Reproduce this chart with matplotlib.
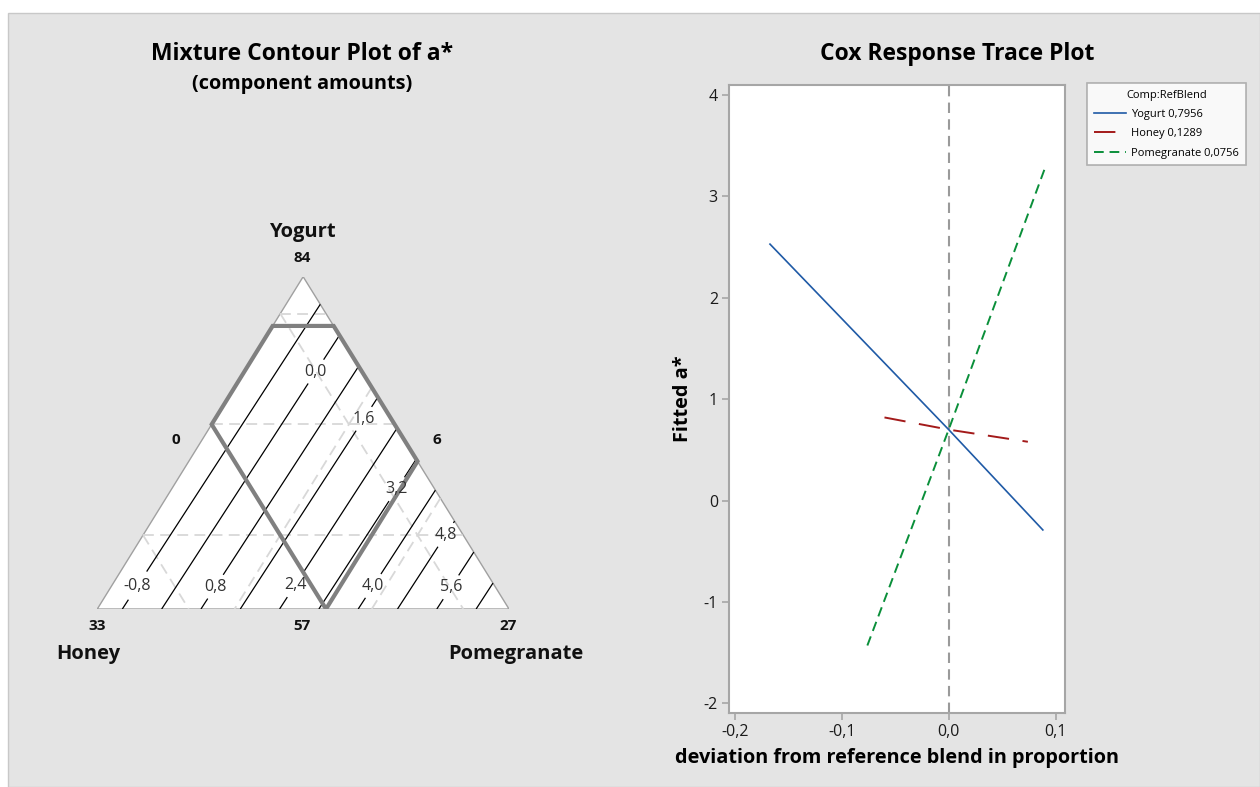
import matplotlib.pyplot as plt
import matplotlib.tri as mtri
import numpy as np
from matplotlib.patches import Polygon, Rectangle

plt.rcParams['font.family'] = ['Open Sans', 'DejaVu Sans']

# mixture design: component amounts, total of 90
components = ["Yogurt", "Honey", "Pomegranate"]
lower = [57, 6, 0]
upper = [84, 33, 27]
total = 90

# fitted linear blending coefficients for a* (on proportions)
coef = [-1.559, -0.880, 27.05]
contour_levels = [-0.8, 0.0, 0.8, 1.6, 2.4, 3.2, 4.0, 4.8, 5.6, 6.4]

# constrained experimental region (Yogurt, Honey, Pomegranate amounts)
region = [(80, 10, 0), (80, 6, 4), (69, 6, 15), (57, 18, 15), (72, 18, 0)]

# reference grid lines (amounts)
grid_yogurt = [63, 72, 81]
grid_honey = [9, 18, 27]
grid_pom = [9, 18]

# Cox trace: reference blend and fitted a* along each component direction
ref_blend = [0.7956, 0.1289, 0.0756]
yogurt_dev = [-0.167, 0.0, 0.088]
yogurt_fit = [2.53, 0.70, -0.29]
honey_dev = [-0.060, 0.0, 0.074]
honey_fit = [0.82, 0.70, 0.58]
pom_dev = [-0.076, 0.0, 0.091]
pom_fit = [-1.43, 0.70, 3.31]

x_ticks = [-0.2, -0.1, 0.0, 0.1]
y_ticks = [-2, -1, 0, 1, 2, 3, 4]

span = upper[0] - lower[0]


def comma(v, nd=1):
    return f"{v:.{nd}f}".replace('.', ',')


def xy(Y, P):
    # pseudo-component coordinates -> triangle cartesian
    return 0.5 * Y + P, Y


def amounts_xy(a):
    Y = (a[0] - lower[0]) / span
    P = (a[2] - lower[2]) / span
    return xy(Y, P)


W, H = 1260, 787
fig = plt.figure(figsize=(W / 100, H / 100), dpi=100, facecolor='white')
fig.patches.append(Rectangle((8 / W, 0), 1 - 8 / W, 1 - 13 / H, transform=fig.transFigure,
                             facecolor='#e4e4e4', edgecolor='#c8c8c8', lw=1, zorder=-10))

# ---------------- mixture contour plot ----------------
ax_t = fig.add_axes([97.3 / W, (H - 609) / H, 411.7 / W, 332.3 / H])
ax_t.set_xlim(0, 1)
ax_t.set_ylim(0, 1)
ax_t.axis('off')

ax_t.add_patch(Polygon([(0, 0), (1, 0), (0.5, 1)], closed=True, facecolor='white',
                       edgecolor='#a0a0a0', lw=1, zorder=0))

gkw = dict(color='#d8d8d8', lw=1.3, dashes=(6, 3.5), zorder=1)
for g in grid_yogurt:
    k = (g - lower[0]) / span
    p0, p1 = xy(k, 0), xy(k, 1 - k)
    ax_t.plot([p0[0], p1[0]], [p0[1], p1[1]], **gkw)
for g in grid_honey:
    k = (g - lower[1]) / span
    p0, p1 = xy(1 - k, 0), xy(0, 1 - k)
    ax_t.plot([p0[0], p1[0]], [p0[1], p1[1]], **gkw)
for g in grid_pom:
    k = (g - lower[2]) / span
    p0, p1 = xy(1 - k, k), xy(0, k)
    ax_t.plot([p0[0], p1[0]], [p0[1], p1[1]], **gkw)

# response surface over the simplex
n = 80
Yp, Pp = [], []
for i in range(n + 1):
    for j in range(n + 1 - i):
        Yp.append(i / n)
        Pp.append(j / n)
Yp = np.array(Yp)
Pp = np.array(Pp)
Hp = 1 - Yp - Pp
fy = (lower[0] + span * Yp) / total
fh = (lower[1] + span * Hp) / total
fp = (lower[2] + span * Pp) / total
resp = coef[0] * fy + coef[1] * fh + coef[2] * fp
tx, ty = xy(Yp, Pp)
tri = mtri.Triangulation(tx, ty)
cs = ax_t.tricontour(tri, resp, levels=contour_levels, colors='black', linewidths=0.9,
                     linestyles='solid', zorder=2)
label_pos = [(0.0957, 0.072), (0.281, 0.072), (0.480, 0.072), (0.667, 0.072), (0.862, 0.063),
             (0.529, 0.716), (0.648, 0.572), (0.723, 0.364), (0.854, 0.217)]
clabels = ax_t.clabel(cs, [l for l in contour_levels if l != 6.4], inline=True, fontsize=11.5,
                      colors='#333333', fmt=lambda v: comma(v), manual=label_pos,
                      inline_spacing=3)
for t in clabels:
    t.set_rotation(0)

reg = [amounts_xy(a) for a in region]
ax_t.add_patch(Polygon(reg, closed=True, fill=False, edgecolor='#808080', lw=3, zorder=3,
                       joinstyle='miter'))

tkw = dict(ha='center', va='center', clip_on=False, color='#111111', fontweight='bold')
ax_t.text(0.497, 1.134, components[0], fontsize=14.5, **tkw)
ax_t.text(0.497, 1.056, str(upper[0]), fontsize=11, **tkw)
ax_t.text(0.191, 0.509, str(lower[2]), fontsize=11, **tkw)
ax_t.text(0.825, 0.509, str(lower[1]), fontsize=11, **tkw)
ax_t.text(0.0, -0.051, str(upper[1]), fontsize=11, **tkw)
ax_t.text(0.497, -0.051, str(lower[0]), fontsize=11, **tkw)
ax_t.text(0.997, -0.051, str(upper[2]), fontsize=11, **tkw)
ax_t.text(-0.022, -0.135, components[1], fontsize=14.5, **tkw)
ax_t.text(1.017, -0.135, components[2], fontsize=14.5, **tkw)

fig.text(302 / W, 1 - 54 / H, "Mixture Contour Plot of a*", ha='center', va='center',
         fontsize=16.5, fontweight='bold')
fig.text(302 / W, 1 - 84 / H, "(component amounts)", ha='center', va='center',
         fontsize=14.3, fontweight='bold')

# ---------------- Cox response trace ----------------
ax = fig.add_axes([729 / W, (H - 713) / H, 336 / W, 628 / H])
ax.set_facecolor('white')
ax.set_xlim(-0.2053, 0.1087)
ax.set_ylim(-2.096, 4.1)
ax.axvline(0, color='#9a9a9a', lw=1.5, dashes=(5, 3), zorder=1)

l1, = ax.plot(yogurt_dev, yogurt_fit, color='#1f5aa6', lw=1.2, zorder=2)
l2, = ax.plot(honey_dev, honey_fit, color='#a31a1a', lw=1.4, dashes=(11, 7), zorder=2)
l3, = ax.plot(pom_dev, pom_fit, color='#0a8f3a', lw=1.4, dashes=(5, 3), zorder=2)

ax.set_xticks(x_ticks)
ax.set_xticklabels([comma(v) for v in x_ticks])
ax.set_yticks(y_ticks)
ax.set_yticklabels([str(v) for v in y_ticks])
for s in ax.spines.values():
    s.set_color('#a6a6a6')
    s.set_linewidth(1.5)
ax.tick_params(direction='out', length=5, width=1.2, color='#a6a6a6', labelsize=11.5,
               labelcolor='#1a1a1a', pad=3)
ax.set_ylabel("Fitted a*", fontsize=14.3, fontweight='bold', labelpad=8)
ax.set_xlabel("deviation from reference blend in proportion", fontsize=14.3,
              fontweight='bold', labelpad=6)

fig.text(957 / W, 1 - 54 / H, "Cox Response Trace Plot", ha='center', va='center',
         fontsize=16.5, fontweight='bold')

labels = [f"{c} {comma(v, 4)}" for c, v in zip(components, ref_blend)]
leg = fig.legend([l1, l2, l3], labels, title="Comp:RefBlend", loc='upper left',
                 bbox_to_anchor=(1087 / W, 1 - 83 / H), fontsize=8, title_fontsize=8,
                 frameon=True, fancybox=False, edgecolor='#a0a0a0', handlelength=2.9,
                 labelspacing=0.75, borderpad=0.6, handletextpad=0.5, borderaxespad=0)
leg.get_frame().set_linewidth(1.2)

fig.savefig("out.png", dpi=100, facecolor=fig.get_facecolor())
